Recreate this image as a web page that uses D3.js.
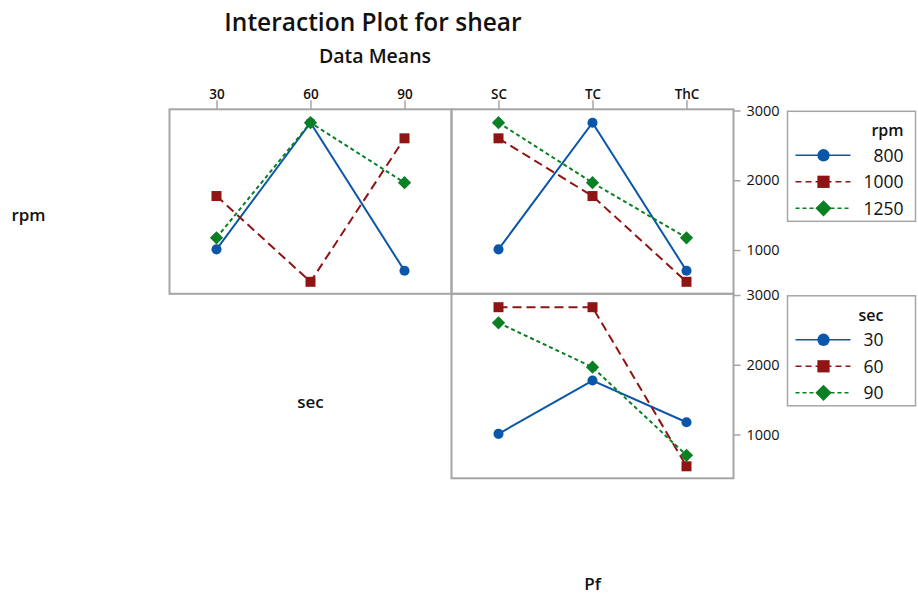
<!DOCTYPE html>
<meta charset="utf-8">
<script src="https://d3js.org/d3.v7.min.js"></script>
<style>
  body { margin: 0; background: #fff; }
  text { font-family: "Open Sans", "Noto Sans", sans-serif; fill: #111; }
</style>
<div id="chart"></div>
<script>
// factor levels
var rpmLevels = [800, 1000, 1250];
var secLevels = [30, 60, 90];
var pfLevels = ["SC", "TC", "ThC"];

// the nine runs
var runRpm   = [800, 800, 800, 1000, 1000, 1000, 1250, 1250, 1250];
var runSec   = [30, 60, 90, 30, 60, 90, 30, 60, 90];
var runPf    = ["SC", "TC", "ThC", "TC", "ThC", "SC", "ThC", "SC", "TC"];
var runShear = [1010, 2825, 703, 1774, 545, 2601, 1176, 2825, 1965];

var yTicks = [1000, 2000, 3000];

var runs = runShear.map(function(v, i) {
  return { rpm: runRpm[i], sec: runSec[i], Pf: runPf[i], shear: v };
});

var factors = [
  { name: "rpm", levels: rpmLevels },
  { name: "sec", levels: secLevels },
  { name: "Pf",  levels: pfLevels }
];

var colors = ["#0a56a8", "#8f1414", "#0a8025"];
var dashes = [null, "9,5", "4,3"];
var shapes = [d3.symbolCircle, d3.symbolSquare, d3.symbolSquare];
var shapeRot = [0, 0, 45];
var shapeSize = [80, 100, 88];

var W = 918, H = 594;
var x0 = 169.5, y0 = 109.3, cw = 282, ch = 184.5;

var svg = d3.select("#chart").append("svg")
  .attr("width", W).attr("height", H);

// titles
svg.append("text").attr("x", 373).attr("y", 31)
  .attr("text-anchor", "middle").style("font-size", "24.5px").style("font-weight", 600)
  .text("Interaction Plot for shear");
svg.append("text").attr("x", 375).attr("y", 63)
  .attr("text-anchor", "middle").style("font-size", "19.5px").style("font-weight", 600)
  .text("Data Means");

var y = d3.scaleLinear().domain([373, 3017]).range([ch, 0]);

function xScale(levels) {
  return d3.scalePoint().domain(levels).range([0, cw]).padding(0.5);
}

function marker(k) {
  return "rotate(" + shapeRot[k] + ")";
}

// diagonal labels
factors.forEach(function(f, i) {
  svg.append("text")
    .attr("x", x0 + (i - 1) * cw + cw / 2)
    .attr("y", y0 + i * ch + ch / 2 + (i === 1 ? 21.5 : 19.5))
    .attr("text-anchor", "middle")
    .style("font-size", "17px").style("font-weight", 600)
    .text(f.name);
});

// panels above the diagonal
for (var r = 0; r < 2; r++) {
  for (var c = r + 1; c < 3; c++) {
    var tr = factors[r], xf = factors[c];
    var x = xScale(xf.levels);
    var g = svg.append("g")
      .attr("transform", "translate(" + (x0 + (c - 1) * cw) + "," + (y0 + r * ch) + ")");

    g.append("rect").attr("width", cw).attr("height", ch)
      .attr("fill", "none").attr("stroke", "#a6a6a6").attr("stroke-width", 2);

    if (r === 0) {
      var ax = g.append("g").call(d3.axisTop(x).tickSize(9).tickSizeOuter(0));
      ax.select(".domain").remove();
      ax.selectAll("line").attr("stroke", "#a6a6a6").attr("stroke-width", 1.5);
      ax.selectAll("text").style("font-size", "13.5px").style("font-weight", 600)
        .attr("fill", "#111").attr("dy", "0.1em");
    }

    tr.levels.forEach(function(lv, k) {
      var pts = xf.levels.map(function(xl) {
        var m = d3.mean(runs.filter(function(d) { return d[tr.name] === lv && d[xf.name] === xl; }),
          function(d) { return d.shear; });
        return { x: xl, v: m };
      });
      g.append("path").datum(pts)
        .attr("fill", "none").attr("stroke", colors[k]).attr("stroke-width", 2)
        .attr("stroke-dasharray", dashes[k])
        .attr("d", d3.line().x(function(d) { return x(d.x); }).y(function(d) { return y(d.v); }));
      g.selectAll(null).data(pts).enter().append("path")
        .attr("transform", function(d) { return "translate(" + x(d.x) + "," + y(d.v) + ") " + marker(k); })
        .attr("d", d3.symbol().type(shapes[k]).size(shapeSize[k]))
        .attr("fill", colors[k]);
    });

    if (c === 2) {
      var ay = g.append("g").attr("transform", "translate(" + cw + ",0)")
        .call(d3.axisRight(y).tickValues(yTicks).tickSize(7).tickSizeOuter(0).tickFormat(d3.format("d")));
      ay.select(".domain").remove();
      ay.selectAll("line").attr("stroke", "#a6a6a6").attr("stroke-width", 1.5);
      ay.selectAll("text").style("font-size", "14.5px").attr("fill", "#111").attr("x", 13);

      // legend
      var lg = g.append("g").attr("transform", "translate(" + (cw + 54) + ",2)");
      lg.append("rect").attr("width", 128).attr("height", 110)
        .attr("fill", "#fff").attr("stroke", "#a6a6a6").attr("stroke-width", 1.5);
      var labels = tr.levels.map(String);
      var tmp = lg.append("text").style("font-size", "17.5px");
      var maxW = d3.max(labels, function(s) { tmp.text(s); return tmp.node().getComputedTextLength(); });
      tmp.remove();
      var rightX = 76 + maxW;
      lg.append("text").attr("x", rightX).attr("y", 25)
        .attr("text-anchor", "end").style("font-size", "16px").style("font-weight", 600)
        .text(tr.name);
      labels.forEach(function(s, k) {
        var yy = 44 + k * 26.5;
        lg.append("line").attr("x1", 8).attr("x2", 63).attr("y1", yy).attr("y2", yy)
          .attr("stroke", colors[k]).attr("stroke-width", 1.5).attr("stroke-dasharray", dashes[k] ? (k === 1 ? "6,4" : "4,3") : null);
        lg.append("path").attr("transform", "translate(36," + yy + ") " + marker(k))
          .attr("d", d3.symbol().type(shapes[k]).size(shapeSize[k] * 1.5))
          .attr("fill", colors[k]);
        lg.append("text").attr("x", rightX).attr("y", yy).attr("dy", "0.36em")
          .attr("text-anchor", "end").style("font-size", "17.5px").text(s);
      });
    }
  }
}
</script>
